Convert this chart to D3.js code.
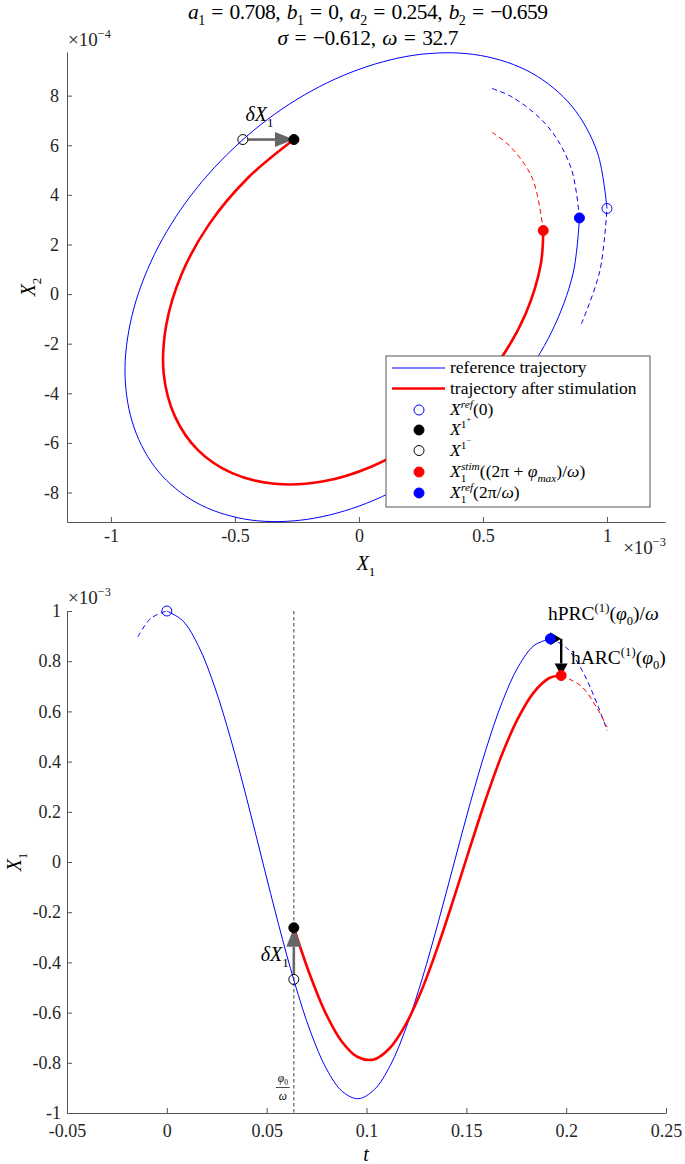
<!DOCTYPE html>
<html><head><meta charset="utf-8">
<script src="https://cdn.jsdelivr.net/npm/d3@7"></script>
<style>
body{margin:0;background:#fff}
text{font-family:"Liberation Serif","Times New Roman",serif;white-space:pre;fill:#000}
</style>
</head><body>
<svg id="c" width="685" height="1164" xmlns="http://www.w3.org/2000/svg"></svg>
<script>
// ---------------- DATA (X1 in 1e-3, X2 in 1e-4) ----------------
// reference trajectory, solid part t in [0, 2π/ω]
const refT  = [0,0.008,0.016,0.024,0.032,0.040,0.048,0.056,0.064,0.072,0.080,0.088,0.096,0.104,0.112,0.120,0.128,0.136,0.144,0.152,0.160,0.168,0.176,0.184,0.1921];
const refX1 = [1.000,0.961,0.858,0.697,0.490,0.253,0.000,-0.250,-0.481,-0.677,-0.825,-0.915,-0.943,-0.906,-0.809,-0.657,-0.462,-0.238,0.000,0.236,0.453,0.638,0.778,0.863,0.889];
const refX2 = [3.45,5.72,7.58,8.91,9.62,9.67,9.06,7.85,6.11,3.98,1.59,-0.87,-3.26,-5.40,-7.15,-8.40,-9.07,-9.12,-8.55,-7.40,-5.77,-3.75,-1.50,0.82,3.07];
// reference, dashed before t=0
const refPreT  = [-0.0145,-0.008,0];
const refPreX1 = [0.897,0.971,1.000];
const refPreX2 = [-1.20,0.92,3.45];
// reference, dashed after 2π/ω
const refPostT  = [0.1921,0.200,0.208,0.216,0.2205];
const refPostX1 = [0.889,0.855,0.763,0.620,0.524];
const refPostX2 = [3.07,5.09,6.74,7.93,8.33];
// trajectory after stimulation, solid
const stimT  = [0.0636,0.0716,0.0796,0.0876,0.0956,0.1036,0.1116,0.1196,0.1276,0.1356,0.1436,0.1516,0.1596,0.1676,0.1756,0.1836,0.1916,0.1975];
const stimX1 = [-0.262,-0.448,-0.603,-0.715,-0.777,-0.787,-0.742,-0.648,-0.511,-0.340,-0.148,0.052,0.247,0.423,0.568,0.674,0.733,0.743];
const stimX2 = [6.23,4.68,2.83,0.80,-1.26,-3.22,-4.93,-6.30,-7.22,-7.65,-7.56,-6.95,-5.87,-4.41,-2.66,-0.75,1.19,2.56];
// trajectory after stimulation, dashed continuation
const stimPostT  = [0.1975,0.2076,0.2156,0.2205];
const stimPostX1 = [0.743,0.700,0.611,0.537];
const stimPostX2 = [2.56,4.65,5.94,6.52];
// special points
const t0 = 0.0636;               // φ0/ω
const xMinus = [-0.468, 6.23];   // X^{1-}
const xPlus  = [-0.262, 6.23];   // X^{1+}
const xRef0  = [1.000, 3.45];    // X^ref(0)
const tRefEnd = 0.1921, xRefEnd = [0.889, 3.07];
const tStimEnd = 0.1975, xStimEnd = [0.743, 2.56];
// ticks
const topXTicks = [-1,-0.5,0,0.5,1];
const topXLabels = ["-1","-0.5","0","0.5","1"];
const topYTicks = [-8,-6,-4,-2,0,2,4,6,8];
const topYLabels = ["-8","-6","-4","-2","0","2","4","6","8"];
const botXTicks = [-0.05,0,0.05,0.1,0.15,0.2,0.25];
const botXLabels = ["-0.05","0","0.05","0.1","0.15","0.2","0.25"];
const botYTicks = [-1,-0.8,-0.6,-0.4,-0.2,0,0.2,0.4,0.6,0.8,1];
const botYLabels = ["-1","-0.8","-0.6","-0.4","-0.2","0","0.2","0.4","0.6","0.8","1"];

// ---------------- DRAW ----------------
const svg = d3.select("#c");
svg.append("rect").attr("width",685).attr("height",1164).attr("fill","#fff");
const BLUE = "#0000ff", RED = "#ff0000", AX = "#555555", GRAY = "#666666";
const TICKFS = 18, LABFS = 20, EXPFS = 19;
const TS = "\u2004"; // thick space, emulates LaTeX relation spacing

function mtext(sel, x, y, parts, size, anchor, rot) {
  const t = sel.append("text").attr("x", x).attr("y", y).attr("font-size", size)
    .attr("text-anchor", anchor || "start");
  if (rot) t.attr("transform", `rotate(${rot},${x},${y})`);
  let cur = 0;
  parts.forEach(p => {
    const s = typeof p === "string" ? p : p[0];
    const st = typeof p === "string" ? "" : (p[1] || "");
    let off = 0, fs = size;
    if (st.includes("sub")) { off = size * 0.28; fs = size * 0.65; }
    if (st.includes("sup")) { off = -size * 0.40; fs = size * 0.65; }
    if (st.includes("ss"))  { off = -size * 0.72; fs = size * 0.46; }
    const ts = t.append("tspan").text(s).attr("font-size", fs).attr("dy", off - cur);
    if (st.includes("i")) ts.attr("font-style", "italic");
    if (typeof p !== "string" && p[2] !== undefined) ts.attr("dx", p[2]);
    cur = off;
  });
  return t;
}

function arrow(g, x1, y1, x2, y2, color, w, hl, hw) {
  const dx = x2 - x1, dy = y2 - y1, L = Math.hypot(dx, dy), ux = dx / L, uy = dy / L;
  const bx = x2 - ux * hl, by = y2 - uy * hl;
  if (L > hl) g.append("line").attr("x1", x1).attr("y1", y1).attr("x2", bx).attr("y2", by)
    .attr("stroke", color).attr("stroke-width", w);
  g.append("path").attr("d", `M${x2},${y2}L${bx - uy * hw},${by + ux * hw}L${bx + uy * hw},${by - ux * hw}Z`)
    .attr("fill", color);
}

function styleAxis(g) {
  g.attr("font-family", null).attr("font-size", null);
  g.select(".domain").attr("stroke", AX).attr("stroke-width", 1);
  g.selectAll(".tick line").attr("stroke", AX);
  g.selectAll(".tick text").attr("font-size", TICKFS).style("fill", "#262626");
}
function marker(g, x, y, fill, stroke) {
  g.append("circle").attr("cx", x).attr("cy", y).attr("r", 5)
    .attr("fill", fill).attr("stroke", stroke).attr("stroke-width", 1);
}
const zip = (a, b) => a.map((v, i) => [v, b[i]]);

// ======== TOP PANEL ========
const xT = d3.scaleLinear().domain([-1.177, 1.234]).range([67, 665]);
const yT = d3.scaleLinear().domain([-9.19, 9.76]).range([522, 52]);
const gTop = svg.append("g");

const EQ = TS + "=" + TS;
mtext(gTop, 368, 19, [["a","i"],["1","sub"],EQ+"0.708,"+TS,["b","i"],["1","sub"],EQ+"0,"+TS,["a","i"],["2","sub"],EQ+"0.254,"+TS,["b","i"],["2","sub"],EQ+"−0.659"], 21.5, "middle")
  .attr("textLength", 360).attr("lengthAdjust", "spacing");
mtext(gTop, 368, 45, [["σ","i"],EQ+"−0.612,"+TS,["ω","i"],EQ+"32.7"], 21.5, "middle")
  .attr("textLength", 181).attr("lengthAdjust", "spacing");

const gxT = gTop.append("g").attr("transform", "translate(0,522)")
  .call(d3.axisBottom(xT).tickValues(topXTicks).tickFormat((d, i) => topXLabels[i]).tickSizeInner(-5).tickSizeOuter(0).tickPadding(7));
styleAxis(gxT);
const gyT = gTop.append("g").attr("transform", "translate(67,0)")
  .call(d3.axisLeft(yT).tickValues(topYTicks).tickFormat((d, i) => topYLabels[i]).tickSizeInner(-5).tickSizeOuter(0).tickPadding(8));
styleAxis(gyT);

mtext(gTop, 68, 46, ["×10",["−4","sup"]], EXPFS, "start").style("fill", "#262626");
mtext(gTop, 666, 554, ["×10",["−3","sup"]], EXPFS, "end").style("fill", "#262626");
mtext(gTop, 366, 570, [["X","i"],["1","sub"]], LABFS, "middle");
mtext(gTop, 35, 287, [["X","i"],["2","sub"]], LABFS, "middle", -90);

const lineTop = d3.line().x(d => xT(d[0])).y(d => yT(d[1])).curve(d3.curveCatmullRom.alpha(0.5));

gTop.append("path").attr("d", lineTop(zip(refPreX1, refPreX2))).attr("fill", "none").attr("stroke", BLUE).attr("stroke-width", 1).attr("stroke-dasharray", "5,3.5");
gTop.append("path").attr("d", lineTop(zip(refPostX1, refPostX2))).attr("fill", "none").attr("stroke", BLUE).attr("stroke-width", 1).attr("stroke-dasharray", "5,3.5");
gTop.append("path").attr("d", lineTop(zip(stimPostX1, stimPostX2))).attr("fill", "none").attr("stroke", RED).attr("stroke-width", 1).attr("stroke-dasharray", "5,3.5");
gTop.append("path").attr("d", lineTop(zip(refX1, refX2))).attr("fill", "none").attr("stroke", BLUE).attr("stroke-width", 1);
gTop.append("path").attr("d", lineTop(zip(stimX1, stimX2))).attr("fill", "none").attr("stroke", RED).attr("stroke-width", 2.6);

// δX1 arrow (top)
arrow(gTop, xT(xMinus[0]) + 5, yT(xMinus[1]), xT(xPlus[0]), yT(xPlus[1]), GRAY, 2.6, 19, 7.5);
mtext(gTop, (xT(xMinus[0]) + xT(xPlus[0])) / 2 - 9, 121, [["δX","i"],["1","sub"]], LABFS, "middle");

marker(gTop, xT(xRef0[0]), yT(xRef0[1]), "none", BLUE);
marker(gTop, xT(xMinus[0]), yT(xMinus[1]), "none", "#000");
marker(gTop, xT(xPlus[0]), yT(xPlus[1]), "#000", "#000");
marker(gTop, xT(xStimEnd[0]), yT(xStimEnd[1]), RED, RED);
marker(gTop, xT(xRefEnd[0]), yT(xRefEnd[1]), BLUE, BLUE);

// legend
const lg = gTop.append("g");
lg.append("rect").attr("x", 386).attr("y", 356).attr("width", 264).attr("height", 151)
  .attr("fill", "#fff").attr("stroke", "#555").attr("stroke-width", 1);
const rows = [368, 388.5, 410, 430, 450.5, 472, 493];
lg.append("line").attr("x1", 392).attr("x2", 445).attr("y1", rows[0]).attr("y2", rows[0]).attr("stroke", BLUE).attr("stroke-width", 1);
lg.append("line").attr("x1", 392).attr("x2", 445).attr("y1", rows[1]).attr("y2", rows[1]).attr("stroke", RED).attr("stroke-width", 2.6);
marker(lg, 419, rows[2], "none", BLUE);
marker(lg, 419, rows[3], "#000", "#000");
marker(lg, 419, rows[4], "none", "#000");
marker(lg, 419, rows[5], RED, RED);
marker(lg, 419, rows[6], BLUE, BLUE);
const LFS = 17.5;
mtext(lg, 450, rows[0] + 5, ["reference trajectory"], LFS);
mtext(lg, 450, rows[1] + 5, ["trajectory after stimulation"], LFS);
mtext(lg, 450, rows[2] + 5, [["X","i"],["ref","isup"],"(0)"], LFS);
mtext(lg, 450, rows[3] + 5, [["X","i"],["1","sup"],["+","ss"]], LFS);
mtext(lg, 450, rows[4] + 5, [["X","i"],["1","sup"],["−","ss"]], LFS);
mtext(lg, 450, rows[5] + 5, [["X","i"],["1","sub"],["stim","isup",-5.5],"((2π + ",["φ","i"],["max","isub"],")/",["ω","i"],")"], LFS);
mtext(lg, 450, rows[6] + 5, [["X","i"],["1","sub"],["ref","isup",-5.5],"(2π/",["ω","i"],")"], LFS);

// ======== BOTTOM PANEL ========
const xB = d3.scaleLinear().domain([-0.05, 0.25]).range([67, 666]);
const yB = d3.scaleLinear().domain([-1, 1]).range([1113, 611]);
const gBot = svg.append("g");

const gxB = gBot.append("g").attr("transform", "translate(0,1113)")
  .call(d3.axisBottom(xB).tickValues(botXTicks).tickFormat((d, i) => botXLabels[i]).tickSizeInner(-5).tickSizeOuter(0).tickPadding(11));
styleAxis(gxB);
const gyB = gBot.append("g").attr("transform", "translate(67,0)")
  .call(d3.axisLeft(yB).tickValues(botYTicks).tickFormat((d, i) => botYLabels[i]).tickSizeInner(-5).tickSizeOuter(0).tickPadding(6));
styleAxis(gyB);

mtext(gBot, 68, 604, ["×10",["−3","sup"]], EXPFS, "start").style("fill", "#262626");
mtext(gBot, 366, 1161, [["t","i"]], LABFS, "middle");
mtext(gBot, 21, 862, [["X","i"],["1","sub"]], LABFS, "middle", -90);

gBot.append("line").attr("x1", xB(t0)).attr("x2", xB(t0)).attr("y1", 611).attr("y2", 1113)
  .attr("stroke", "#777").attr("stroke-width", 1.4).attr("stroke-dasharray", "3.5,2.5");
const fx = xB(t0) - 11;
mtext(gBot, fx, 1082, [["φ","i"],["0","sub"]], 11.5, "middle");
gBot.append("line").attr("x1", fx - 7).attr("x2", fx + 7).attr("y1", 1087.5).attr("y2", 1087.5).attr("stroke", "#000").attr("stroke-width", 0.7);
mtext(gBot, fx, 1100, [["ω","i"]], 11.5, "middle");

const lineBot = d3.line().x(d => xB(d[0])).y(d => yB(d[1])).curve(d3.curveCatmullRom.alpha(0.5));
gBot.append("path").attr("d", lineBot(zip(refPreT, refPreX1))).attr("fill", "none").attr("stroke", BLUE).attr("stroke-width", 1).attr("stroke-dasharray", "5,3.5");
gBot.append("path").attr("d", lineBot(zip(refPostT, refPostX1))).attr("fill", "none").attr("stroke", BLUE).attr("stroke-width", 1).attr("stroke-dasharray", "5,3.5");
gBot.append("path").attr("d", lineBot(zip(stimPostT, stimPostX1))).attr("fill", "none").attr("stroke", RED).attr("stroke-width", 1).attr("stroke-dasharray", "5,3.5");
gBot.append("path").attr("d", lineBot(zip(refT, refX1))).attr("fill", "none").attr("stroke", BLUE).attr("stroke-width", 1);
gBot.append("path").attr("d", lineBot(zip(stimT, stimX1))).attr("fill", "none").attr("stroke", RED).attr("stroke-width", 2.6);

arrow(gBot, xB(t0), yB(xMinus[0]) - 5, xB(t0), yB(xPlus[0]), GRAY, 2.6, 19, 7.5);
mtext(gBot, xB(t0) - 5, 961, [["δX","i"],["1","sub"]], LABFS, "end");

arrow(gBot, xB(tRefEnd), yB(xRefEnd[0]), xB(tStimEnd), yB(xRefEnd[0]), "#000", 2.4, 11, 6.5);
arrow(gBot, xB(tStimEnd), yB(xRefEnd[0]), xB(tStimEnd), yB(xStimEnd[0]), "#000", 2.4, 12, 6.5);

marker(gBot, xB(0), yB(refX1[0]), "none", BLUE);
marker(gBot, xB(t0), yB(xMinus[0]), "none", "#000");
marker(gBot, xB(t0), yB(xPlus[0]), "#000", "#000");
marker(gBot, xB(tRefEnd), yB(xRefEnd[0]), BLUE, BLUE);
marker(gBot, xB(tStimEnd), yB(xStimEnd[0]), RED, RED);

mtext(gBot, 548, 620, ["hPRC",["(1)","sup"],"(",["φ","i"],["0","sub"],")/",["ω","i"]], 19.5, "start");
mtext(gBot, 571, 664, ["hARC",["(1)","sup"],"(",["φ","i"],["0","sub"],")"], 19.5, "start");
</script>
</body></html>
